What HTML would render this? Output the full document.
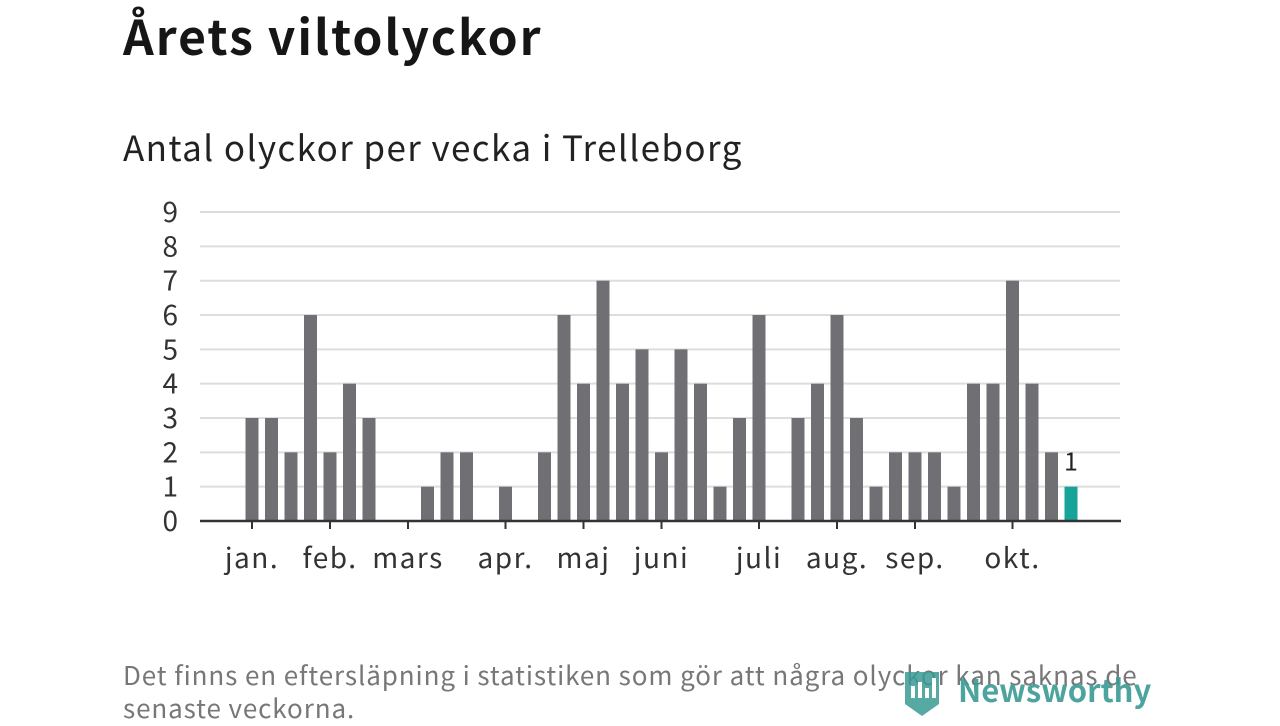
<!DOCTYPE html>
<html><head><meta charset="utf-8">
<style>
html,body{margin:0;padding:0;background:#fff;width:1280px;height:720px;overflow:hidden;font-family:"Noto Sans CJK JP","Liberation Sans",sans-serif;}
.t{position:absolute;left:123px;top:2px;font-size:48px;letter-spacing:2px;line-height:64px;font-weight:bold;color:#161616;margin:0;}
.s{position:absolute;left:123px;top:122px;font-size:35px;letter-spacing:1.4px;line-height:50px;font-weight:normal;color:#222;margin:0;}
.f{position:absolute;left:123px;top:658px;font-size:26px;letter-spacing:0.9px;color:#777;line-height:33px;width:1040px;}
.logo{position:absolute;left:903px;top:668px;}
</style></head><body>
<h1 class="t">Årets viltolyckor</h1>
<h2 class="s">Antal olyckor per vecka i Trelleborg</h2>
<svg id="c" width="1280" height="720" style="position:absolute;left:0;top:0"></svg>
<div class="f">Det finns en eftersläpning i statistiken som gör att några olyckor kan saknas de senaste veckorna.</div>
<svg class="logo" width="260" height="52">
<path d="M2 4 h34 v32 l-17 12 l-17 -12z" fill="#3a9b94" opacity="0.85"/>
<rect x="8" y="18" width="4" height="12" fill="#fff"/><rect x="15" y="14" width="4" height="16" fill="#fff"/><rect x="22" y="20" width="4" height="10" fill="#fff"/><rect x="29" y="10" width="4" height="20" fill="#fff"/>
<text x="55" y="34" font-size="31" font-family="Noto Sans CJK JP, Liberation Sans, sans-serif" fill="#3a9b94" font-weight="bold" opacity="0.9">Newsworthy</text>
</svg>
<script>
const weeks=[1,2,3,4,5,6,7,8,9,10,11,12,13,14,15,16,17,18,19,20,21,22,23,24,25,26,27,28,29,30,31,32,33,34,35,36,37,38,39,40,41,42,43];
const values=[3,3,2,6,2,4,3,0,0,1,2,2,0,1,0,2,6,4,7,4,5,2,5,4,1,3,6,0,3,4,6,3,1,2,2,2,1,4,4,7,4,2,1];
const yTicks=[0,1,2,3,4,5,6,7,8,9];
const monthLabels=["jan.","feb.","mars","apr.","maj","juni","juli","aug.","sep.","okt."];
const monthWeeks=[1,5,9,14,18,22,27,31,35,40];
const FF='Noto Sans CJK JP, Liberation Sans, sans-serif';
const NS="http://www.w3.org/2000/svg";
const svg=document.getElementById('c');
const x=w=>252+(w-1)*19.5;
const y=v=>521-v*34.33;
function el(t,a){const e=document.createElementNS(NS,t);for(const k in a)e.setAttribute(k,a[k]);svg.appendChild(e);return e;}
yTicks.forEach(v=>{
  if(v>0){const g=el('line',{x1:200,x2:1120,y1:y(v),y2:y(v),stroke:'#ddd','stroke-width':2});
  
  }
  const t=el('text',{x:178,y:y(v)+10,'text-anchor':'end','font-size':28,fill:'#333','font-family':FF});
  t.textContent=v;
  
  
});
weeks.forEach((w,i)=>{
  const v=values[i];if(!v)return;
  const last=i===weeks.length-1;
  const r=el('rect',{x:x(w)-6.5,y:y(v),width:13,height:y(0)-y(v),fill:last?'#17a398':'#706f74'});
  
  
  if(last){const t=el('text',{x:x(w),y:y(v)-16,'text-anchor':'middle','font-size':25,fill:'#222','font-family':FF});t.textContent=v;
  
  }
});
const ax=el('line',{x1:200,x2:1121,y1:521,y2:521,stroke:'#333','stroke-width':2.5});


monthLabels.forEach((m,i)=>{
  const xx=x(monthWeeks[i]);
  const tk=el('line',{x1:xx,x2:xx,y1:521,y2:529,stroke:'#333','stroke-width':2});
  
  
  const t=el('text',{x:xx,y:568,'text-anchor':'middle','font-size':28,'letter-spacing':1.5,fill:'#333','font-family':FF});
  t.textContent=m;
  
  
});
</script>
</body></html>
